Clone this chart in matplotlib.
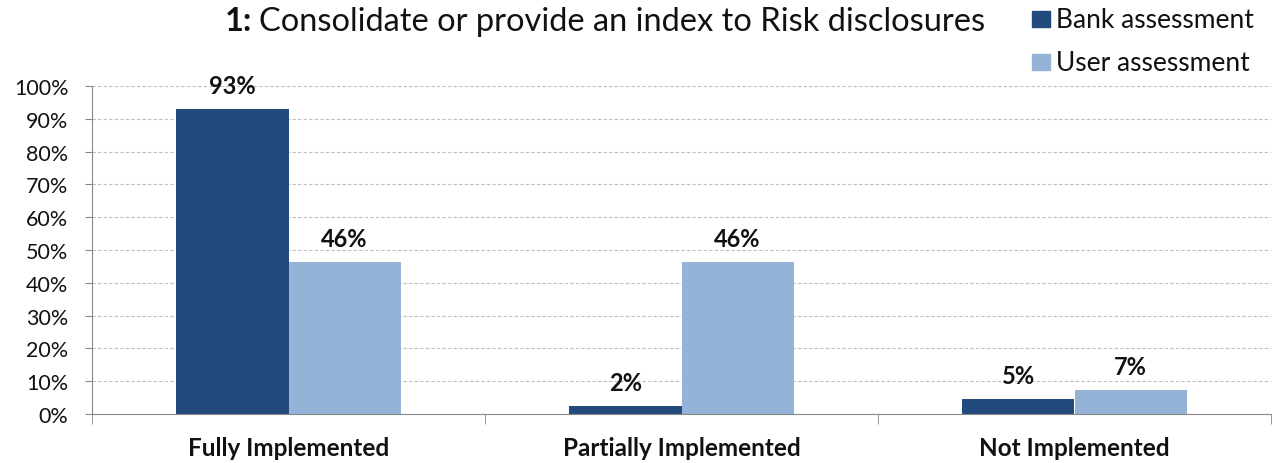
import matplotlib
matplotlib.use("Agg")
import matplotlib.pyplot as plt
import numpy as np
from matplotlib.ticker import FuncFormatter, MultipleLocator
from matplotlib.patches import Rectangle

categories = ["Fully Implemented", "Partially Implemented", "Not Implemented"]
bank = [0.93, 0.024, 0.046]
user = [0.464, 0.464, 0.073]
series_names = ["Bank assessment", "User assessment"]
colors = ["#234A7C", "#95B3D7"]

plt.rcParams['font.family'] = ['Lato', 'DejaVu Sans']

W, H = 1272, 464
fig = plt.figure(figsize=(W/100, H/100), dpi=100)
ax = fig.add_axes([92/W, 1-415/H, 1179/W, (415-87)/H])

x = np.arange(len(categories))
w = 0.285
b1 = ax.bar(x - w/2, bank, w, color=colors[0], label=series_names[0])
b2 = ax.bar(x + w/2, user, w, color=colors[1], label=series_names[1])

for bars, vals in ((b1, bank), (b2, user)):
    for r, v in zip(bars, vals):
        ax.text(r.get_x() + r.get_width()/2, v + 0.036, f"{round(v*100):d}%",
                ha='center', va='bottom', fontsize=17, fontweight='bold', color='#111111')

ax.set_xlim(-0.5, 2.5)
ax.set_ylim(0, 1.0)
ax.yaxis.set_major_locator(MultipleLocator(0.1))
ax.yaxis.set_major_formatter(FuncFormatter(lambda v, p: f"{round(v*100):d}%"))
ax.yaxis.grid(True, linestyle=(0, (3, 2)), color='#BDBDBD', linewidth=0.8)
ax.set_axisbelow(True)

ax.set_xticks(x)
ax.set_xticklabels(categories, fontsize=17.5, fontweight='bold', color='#111111')
ax.tick_params(axis='x', length=0, pad=16)
ax.set_xticks([-0.5, 0.5, 1.5, 2.5], minor=True)
ax.tick_params(axis='x', which='minor', length=7, color='#888888', direction='out')
ax.tick_params(axis='y', labelsize=15.5, length=5, color='#888888', labelcolor='#111111', pad=12)

for s in ['top', 'right']:
    ax.spines[s].set_visible(False)
ax.spines['left'].set_color('#888888')
ax.spines['bottom'].set_color('#888888')

# Title: bold "1:" followed by regular text
fig.text(252/W, 1-31/H, "1:", fontsize=23.5, fontweight='bold', ha='right',
         va='baseline', color='#111111')
fig.text(259/W, 1-31/H, "Consolidate or provide an index to Risk disclosures",
         fontsize=23.5, ha='left', va='baseline', color='#111111')

# Legend (drawn manually to match placement)
rows = [(12, 28), (55, 71)]
for (top, base), name, c in zip(rows, series_names, colors):
    fig.patches.append(Rectangle((1032/W, 1-base/H), 18/W, (base-top)/H,
                                 transform=fig.transFigure, color=c, figure=fig))
    fig.text(1056/W, 1-base/H, name, fontsize=19, ha='left', va='baseline',
             color='#111111')

fig.savefig("out.png", dpi=100)
